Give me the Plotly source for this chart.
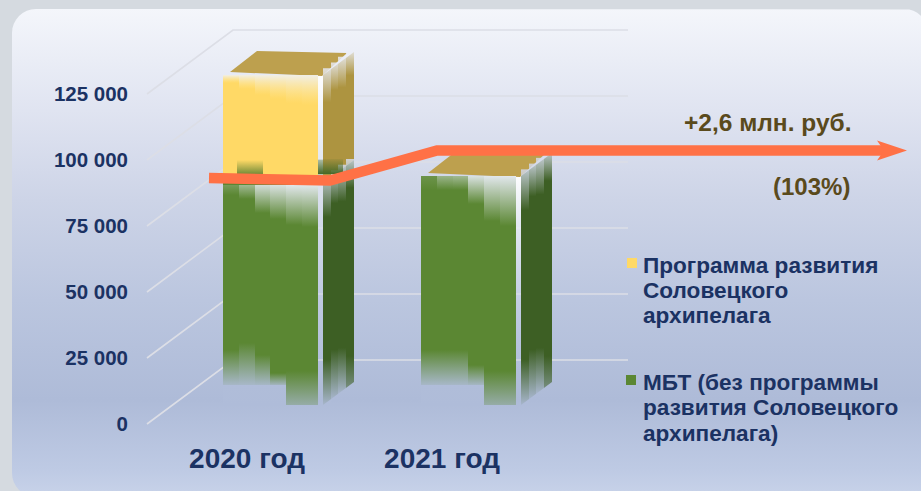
import math
import plotly.graph_objects as go

# ---- data ----
YEARS = ["2020 год", "2021 год"]
MBT = [84100, 86700]
PROGRAM = [40900, 0]
TICK_VALUES = [0, 25000, 50000, 75000, 100000, 125000]
TICK_LABELS = ["0", "25 000", "50 000", "75 000", "100 000", "125 000"]
LINES_PROGRAM = ["Программа развития", "Соловецкого", "архипелага"]
LINES_MBT = ["МБТ (без программы", "развития Соловецкого", "архипелага)"]

# ---- scale of the picture ----
W, H = 921, 491
BAR0_PX, BAR_STEP_PX, BAR_W_PX = 270.5, 198.0, 95.0
ZERO_PX, STEP_PX = 405.0, 66.0      # value 0 on the front plane, px per 25 000
NAVY = "#1b3263"
BROWN = "#5a4a1c"
GREEN, GREEN_SIDE, GREEN_TOP = "#5b8733", "#3d5f24", "#4a6f2a"
YELLOW, YELLOW_SIDE, GOLD_TOP = "#ffd966", "#ad9440", "#bda04e"
ORANGE = "#ff7146"
BG_STOPS = [(9, (244, 246, 251)), (110, (224, 228, 241)), (200, (205, 212, 231)),
            (300, (187, 198, 223)), (400, (174, 187, 216)), (470, (190, 202, 228)), (491, (198, 209, 232))]


def dx(px):
    return (px - BAR0_PX) / BAR_STEP_PX


def dy(px):
    return (ZERO_PX - px) / STEP_PX * 25000


def py(value):
    return ZERO_PX - value / 25000 * STEP_PX


def bg_at(p, a=1.0):
    for (p0, c0), (p1, c1) in zip(BG_STOPS, BG_STOPS[1:]):
        if p <= p1:
            t = max(0, (p - p0) / (p1 - p0))
            c = [round(u + (v - u) * t) for u, v in zip(c0, c1)]
            return f"rgba({c[0]},{c[1]},{c[2]},{a})"
    c = BG_STOPS[-1][1]
    return f"rgba({c[0]},{c[1]},{c[2]},{a})"


def poly(xs, ys, color=None, grad=None, axes=("x2", "y2"), top=None, bottom=None):
    """Closed filled polygon given in picture pixels."""
    t = dict(x=[dx(v) for v in xs], y=[dy(v) for v in ys], mode="lines", fill="toself",
             line=dict(width=0), hoverinfo="skip", showlegend=False, xaxis=axes[0], yaxis=axes[1])
    if grad:
        t["fillgradient"] = dict(type="vertical", start=dy(bottom), stop=dy(top),
                                 colorscale=[[0, grad[1]], [1, grad[0]]])
        t["fillcolor"] = grad[0]
    else:
        t["fillcolor"] = color
    return go.Scatter(**t)


def rect_fade(x0, x1, y0, y1, c0, c1):
    return poly([x0, x1, x1, x0, x0], [y0, y0, y1, y1, y0], grad=(c0, c1), top=y0, bottom=y1)


fig = go.Figure()

# ---- panel with rounded corners, running off the right and bottom edges ----
px_x, px_y = [], []
for cx, cy, r, a0 in [(36, 33, 24, 180), (905, 31, 22, 270), (928, 498, 1, 0), (36, 473, 24, 90)]:
    for k in range(9):
        a = math.radians(a0 + k * 90 / 8)
        px_x.append(cx + r * math.cos(a))
        px_y.append(cy + r * math.sin(a))
px_x.append(px_x[0])
px_y.append(px_y[0])
scale = sorted([(491 - p) / (491 - 9), f"rgb{c}"] for p, c in BG_STOPS)
fig.add_trace(go.Scatter(x=[dx(v) for v in px_x], y=[dy(v) for v in px_y], mode="lines", fill="toself",
                         line=dict(width=0), hoverinfo="skip", showlegend=False, fillcolor="#c8d0e4",
                         fillgradient=dict(type="vertical", start=dy(491), stop=dy(9), colorscale=scale)))

# ---- walls: one grid line per tick ----
gx, gy = [], []
for v in TICK_VALUES:
    left = py(v) + 19
    back = py(v) - 45
    gx += [dx(147), dx(233), dx(628), None]
    gy += [dy(left), dy(back), dy(back), None]
fig.add_trace(go.Scatter(x=gx, y=gy, mode="lines", line=dict(color="#dcdee6", width=1.6),
                         hoverinfo="skip", showlegend=False))

DEPTH_X, DEPTH_Y = 31, 23

# ---- green lid hidden behind the yellow block ----
for i, (m, p) in enumerate(zip(MBT, PROGRAM)):
    if p:
        cx = BAR0_PX + i * BAR_STEP_PX
        yy = py(m)
        fig.add_trace(poly([cx - 40, cx - 13, cx + 76, cx + 52, cx - 40],
                           [yy, yy - 23, yy - 23, yy, yy], color=GREEN_TOP, axes=("x", "y")))

# ---- front faces, drawn as stacked bars ----
fig.add_trace(go.Bar(x=[0, 1], y=MBT, width=BAR_W_PX / BAR_STEP_PX, marker=dict(color=GREEN, line_width=0),
                     name="МБТ", xaxis="x2", yaxis="y2", showlegend=False, hoverinfo="skip"))
fig.add_trace(go.Bar(x=[0, 1], y=PROGRAM, width=BAR_W_PX / BAR_STEP_PX, marker=dict(color=YELLOW, line_width=0),
                     name="Программа", xaxis="x2", yaxis="y2", showlegend=False, hoverinfo="skip"))

# how far the washed-out edges reach into each of six bar columns (px)
TOP_FADE_GREEN = [[10, 14, 28, 34, 40, 42], [14, 14, 14, 28, 45, 50]]
TOP_ALPHA_GREEN = [[0.2, 0.5, 0.85, 0.9, 0.95, 0.95], [0.12, 0.45, 0.5, 0.9, 0.95, 0.95]]
BOTTOM_FADE_GREEN = [[55, 62, 50, 32, 34, 34], [55, 55, 55, 40, 34, 34]]
BOTTOM_BLOCK = [20, 20, 20, 20, 0, 0]
BOTTOM_ALPHA = [0.92, 0.92, 0.92, 0.92, 0.72, 0.72]
TOP_FADE_YELLOW = [8, 14, 20, 24, 28, 30]
SIDE_TOP_FADE = [34, 26, 30, 22]
SIDE_BOTTOM_FADE = [40, 44, 40, 26]

for i, (m, p) in enumerate(zip(MBT, PROGRAM)):
    cx = BAR0_PX + i * BAR_STEP_PX
    x0, x1 = cx - BAR_W_PX / 2, cx + BAR_W_PX / 2
    s0, s1 = x1 + 5, x1 + 5 + DEPTH_X
    total = m + p
    ym, yt, y0 = py(m), py(total), py(0)

    # white stripe between front and side
    fig.add_trace(rect_fade(x1, s0, yt, y0 - 30, "rgba(255,255,255,0.95)", bg_at(y0 - 30, 0.2)))

    # sides
    if p:
        fig.add_trace(poly([s0, s1, s1, s0, s0], [yt, yt - DEPTH_Y, ym - DEPTH_Y, ym, yt], color=YELLOW_SIDE))
    fig.add_trace(poly([s0, s1, s1, s0, s0], [ym, ym - DEPTH_Y, y0 - DEPTH_Y, y0, ym], color=GREEN_SIDE))

    # lid
    fig.add_trace(poly([x0 + 7, x0 + 34, s1 - 7, s0 - 1, x0 + 7],
                       [yt - 3, yt - 24, yt - 22, yt + 1, yt - 3], color=GOLD_TOP))

    # washed-out front columns
    col = BAR_W_PX / 6
    for k in range(6):
        a, b = round(x0 + k * col), round(x0 + (k + 1) * col)
        d = TOP_FADE_GREEN[i][k]
        al = TOP_ALPHA_GREEN[i][k]
        start = ym if i == 1 else ym + 2
        fig.add_trace(rect_fade(a, b, round(start), round(start + d),
                                f"rgba(232,236,245,{al})", "rgba(232,236,245,0)"))
        e = BOTTOM_FADE_GREEN[i][k]
        blk = BOTTOM_BLOCK[k]
        fig.add_trace(rect_fade(a, b, y0 - e, y0 - blk + 1, bg_at(y0 - e, 0.0), bg_at(y0 - blk, BOTTOM_ALPHA[k])))
        if blk:
            fig.add_trace(rect_fade(a, b, y0 - blk, y0 + 1, bg_at(y0 - blk, 1), bg_at(y0, 1)))
        if p:
            f = TOP_FADE_YELLOW[k]
            fig.add_trace(rect_fade(a, b, round(yt), round(yt + f), "rgba(240,240,238,0.95)", "rgba(255,235,170,0.0)"))

    # washed-out side columns
    sc = DEPTH_X / 4
    for k in range(4):
        a, b = round(s0 + k * sc), round(s0 + (k + 1) * sc)
        top_lift = DEPTH_Y * (k + 1) / 4
        low_lift = DEPTH_Y * k / 4
        d = SIDE_TOP_FADE[k]
        st = ym - top_lift
        fig.add_trace(rect_fade(a, b, st - 1, ym - low_lift + d, bg_at(st, 0.85), bg_at(st, 0.0)))
        e = SIDE_BOTTOM_FADE[k]
        en = y0 - low_lift
        last = 0.5 if k == 3 else 0.95
        fig.add_trace(rect_fade(a, b, y0 - top_lift - e, en + 1, bg_at(en - e, 0.0), bg_at(en, last)))
        if p:
            st2 = yt - top_lift
            fig.add_trace(rect_fade(a, b, st2 - 1, yt - low_lift + d * 0.8, bg_at(st2, 0.85), bg_at(st2, 0.0)))

# the green lid showing through the washed-out bottom edge of the yellow block
m0 = py(MBT[0])
fig.add_trace(rect_fade(237, 263, m0 - 23, m0 - 8, "rgba(80,120,45,0)", "rgba(80,120,45,0.85)"))
fig.add_trace(rect_fade(318, 343, m0 - 24, m0 - 9, "rgba(70,105,40,0.1)", "rgba(70,105,40,1)"))

# ---- growth arrow ----
ARROW_X = [209, 330, 437, 885]
ARROW_Y = [178, 180.5, 150.5, 150.5]
fig.add_trace(go.Scatter(x=[dx(v) for v in ARROW_X], y=[dy(v) for v in ARROW_Y], mode="lines",
                         line=dict(color=ORANGE, width=10.5), hoverinfo="skip",
                         showlegend=False, xaxis="x2", yaxis="y2"))
fig.add_trace(poly([877, 907, 877, 884, 877], [140.5, 150.5, 160.5, 150.5, 140.5], color=ORANGE))

# ---- legend keys ----
fig.add_trace(go.Scatter(x=[dx(632), dx(631)], y=[dy(263), dy(380)], mode="markers", xaxis="x2", yaxis="y2",
                         marker=dict(symbol="square", size=10, color=[YELLOW, GREEN], line_width=0),
                         hoverinfo="skip", showlegend=False))

# ---- the axes that carry the labels, set off from the front plane as in the picture ----
fig.add_trace(go.Scatter(x=[0, 1], y=[0, 125000], mode="markers", marker=dict(size=1, opacity=0),
                         xaxis="x3", yaxis="y3", hoverinfo="skip", showlegend=False))

Y_LABEL0, X_LABEL0, X_LABEL_STEP = 423.5, 247.0, 195.0


def anno(px, py_, text, color, size, anchor="left"):
    return dict(x=px / W, y=1 - py_ / H, xref="paper", yref="paper", text=text, showarrow=False,
                xanchor=anchor, yanchor="middle", align="left",
                font=dict(family="Liberation Sans", size=size, color=color, weight="bold"))


annotations = [
    anno(767, 123, "+2,6 млн. руб.", BROWN, 24.5, "center"),
    anno(811, 187, "(103%)", BROWN, 24, "center"),
]
for j, line in enumerate(LINES_PROGRAM):
    annotations.append(anno(641, 265 + j * 25, line, NAVY, 22.6))
for j, line in enumerate(LINES_MBT):
    annotations.append(anno(641, 382 + j * 25.5, line, NAVY, 22.6))

fig.update_layout(
    width=W, height=H, margin=dict(l=0, r=0, t=0, b=0), autosize=False,
    paper_bgcolor="#d5dae0", plot_bgcolor="rgba(0,0,0,0)", barmode="stack", bargap=0,
    xaxis=dict(visible=False, range=[dx(0), dx(W)], fixedrange=True),
    yaxis=dict(visible=False, range=[dy(H), dy(0)], fixedrange=True),
    xaxis2=dict(visible=False, range=[dx(0), dx(W)], overlaying="x", fixedrange=True),
    yaxis2=dict(visible=False, range=[dy(H), dy(0)], overlaying="y", fixedrange=True),
    xaxis3=dict(overlaying="x", anchor="free", position=1 - 439 / H,
                range=[(0 - X_LABEL0) / X_LABEL_STEP, (W - X_LABEL0) / X_LABEL_STEP],
                tickmode="array", tickvals=[0, 1], ticktext=YEARS, showgrid=False, showline=False,
                zeroline=False, ticks="", fixedrange=True,
                tickfont=dict(family="Liberation Sans", size=28, color=NAVY, weight="bold")),
    yaxis3=dict(overlaying="y", anchor="free", position=128 / W,
                range=[(Y_LABEL0 - H) / STEP_PX * 25000, Y_LABEL0 / STEP_PX * 25000],
                tickmode="array", tickvals=TICK_VALUES, ticktext=TICK_LABELS, showgrid=False,
                showline=False, zeroline=False, ticks="", fixedrange=True,
                tickfont=dict(family="Liberation Sans", size=20.5, color=NAVY, weight="bold")),
    annotations=annotations,
)

fig.write_html("out.html", config=dict(displayModeBar=False),
               post_script="document.body.style.margin='0';document.body.style.background='#d5dae0';document.body.style.overflow='hidden';")
